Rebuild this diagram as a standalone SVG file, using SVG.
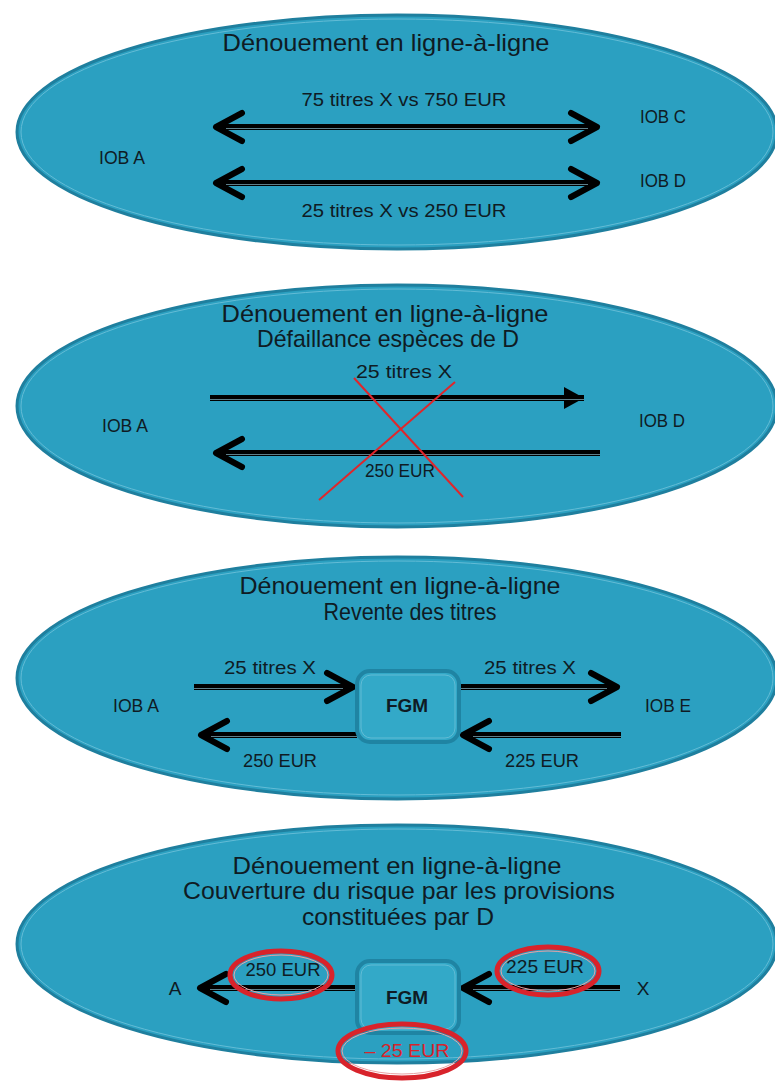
<svg xmlns="http://www.w3.org/2000/svg" width="775" height="1083" viewBox="0 0 775 1083">
<style>
.bg{fill:#2ba0c1;stroke:#1f7f9e;stroke-width:3}
.rim{fill:none;stroke:#63bcd6;stroke-width:1}
.t{font-family:"Liberation Sans Narrow","Liberation Sans",Arial,sans-serif;fill:#0f1b24;text-anchor:middle}
.h{font-size:24px}
.l{font-size:19px}
.b{font-weight:bold;font-size:19px}
.ln{fill:none;stroke:#000;stroke-width:6}
.hl{fill:none;stroke:#5e7f8a;stroke-width:1}
.box{fill:#33a9c8;stroke:#1f84a3;stroke-width:4}
.boxin{fill:none;stroke:#62bcd5;stroke-width:1}
.red{fill:none;stroke:#d8232b;stroke-width:5}
.redin{fill:none;stroke:#e9a3a6;stroke-width:1}
.cross{stroke:#e0262b;stroke-width:2}
</style>
<defs>
<marker id="chev" markerUnits="userSpaceOnUse" markerWidth="40" markerHeight="40" viewBox="0 0 40 40" refX="33" refY="20" orient="auto-start-reverse">
<path d="M7,6 L33,20 L7,34" fill="none" stroke="#000" stroke-width="6" stroke-linecap="round" stroke-linejoin="round"/>
</marker>
<marker id="tri" markerUnits="userSpaceOnUse" markerWidth="30" markerHeight="30" viewBox="0 0 30 30" refX="24" refY="15" orient="auto">
<path d="M4,4 L24,15 L4,26 Z" fill="#000"/>
</marker>
</defs>

<g id="panel1">
<ellipse class="bg" cx="397" cy="132" rx="380" ry="117"/>
<ellipse class="rim" cx="397" cy="132" rx="376" ry="113"/>
<text class="t h" x="386" y="51" textLength="327" lengthAdjust="spacingAndGlyphs">Dénouement en ligne-à-ligne</text>
<text class="t l" x="404" y="106" textLength="205" lengthAdjust="spacingAndGlyphs">75 titres X vs 750 EUR</text>
<text class="t l" x="404" y="217" textLength="205" lengthAdjust="spacingAndGlyphs">25 titres X vs 250 EUR</text>
<g id="iobA1"><text class="t l" x="122" y="164" textLength="46" lengthAdjust="spacingAndGlyphs">IOB A</text></g>
<g id="iobC1"><text class="t l" x="663" y="123" textLength="46" lengthAdjust="spacingAndGlyphs">IOB C</text></g>
<g id="iobD1"><text class="t l" x="663" y="187" textLength="46" lengthAdjust="spacingAndGlyphs">IOB D</text></g>
</g>

<g id="panel2">
<ellipse class="bg" cx="397" cy="406" rx="380" ry="121"/>
<ellipse class="rim" cx="397" cy="406" rx="376" ry="117"/>
<text class="t h" x="385" y="322" textLength="327" lengthAdjust="spacingAndGlyphs">Dénouement en ligne-à-ligne</text>
<text class="t h" x="388" y="347" textLength="262" lengthAdjust="spacingAndGlyphs">Défaillance espèces de D</text>
<text class="t l" x="404" y="378" textLength="96" lengthAdjust="spacingAndGlyphs">25 titres X</text>
<text class="t l" x="400" y="477" textLength="70" lengthAdjust="spacingAndGlyphs">250 EUR</text>
<g id="iobA2"><text class="t l" x="125" y="432" textLength="46" lengthAdjust="spacingAndGlyphs">IOB A</text></g>
<g id="iobD2"><text class="t l" x="662" y="427" textLength="46" lengthAdjust="spacingAndGlyphs">IOB D</text></g>
</g>

<g id="panel3">
<ellipse class="bg" cx="397" cy="678" rx="380" ry="121"/>
<ellipse class="rim" cx="397" cy="678" rx="376" ry="117"/>
<text class="t h" x="400" y="594" textLength="321" lengthAdjust="spacingAndGlyphs">Dénouement en ligne-à-ligne</text>
<text class="t h" x="410" y="620" textLength="173" lengthAdjust="spacingAndGlyphs">Revente des titres</text>
<text class="t l" x="270" y="674" textLength="92" lengthAdjust="spacingAndGlyphs">25 titres X</text>
<text class="t l" x="530" y="674" textLength="92" lengthAdjust="spacingAndGlyphs">25 titres X</text>
<text class="t l" x="280" y="767" textLength="74" lengthAdjust="spacingAndGlyphs">250 EUR</text>
<text class="t l" x="542" y="767" textLength="74" lengthAdjust="spacingAndGlyphs">225 EUR</text>
<g id="iobA3"><text class="t l" x="136" y="712" textLength="46" lengthAdjust="spacingAndGlyphs">IOB A</text></g>
<g id="iobE3"><text class="t l" x="668" y="712" textLength="46" lengthAdjust="spacingAndGlyphs">IOB E</text></g>
</g>

<g id="panel4">
<ellipse class="bg" cx="397" cy="944" rx="380" ry="119"/>
<ellipse class="rim" cx="397" cy="944" rx="376" ry="115"/>
<text class="t h" x="397" y="874" textLength="329" lengthAdjust="spacingAndGlyphs">Dénouement en ligne-à-ligne</text>
<text class="t h" x="399" y="899" textLength="432" lengthAdjust="spacingAndGlyphs">Couverture du risque par les provisions</text>
<text class="t h" x="398" y="925" textLength="192" lengthAdjust="spacingAndGlyphs">constituées par D</text>
<g id="nodeA4"><text class="t l" x="175" y="995">A</text></g>
<g id="nodeX4"><text class="t l" x="643" y="995">X</text></g>
</g>

<g id="connectors">
<path class="ln" d="M216,127 H597" marker-start="url(#chev)" marker-end="url(#chev)"/>
<path class="hl" d="M226,128.5 H588"/>
<path class="ln" d="M216,183 H597" marker-start="url(#chev)" marker-end="url(#chev)"/>
<path class="hl" d="M226,184.5 H588"/>

<path class="ln" d="M210,398 H584" marker-end="url(#tri)"/>
<path class="hl" d="M210,399.5 H584"/>
<path class="ln" d="M600,453 H216" marker-end="url(#chev)"/>
<path class="hl" d="M600,454.5 H226"/>

<path class="ln" d="M194,687 H353" marker-end="url(#chev)"/>
<path class="hl" d="M194,688.5 H343"/>
<path class="ln" d="M460,687 H617" marker-end="url(#chev)"/>
<path class="hl" d="M460,688.5 H607"/>
<path class="ln" d="M357,735 H201" marker-end="url(#chev)"/>
<path class="hl" d="M357,736.5 H211"/>
<path class="ln" d="M621,735 H463" marker-end="url(#chev)"/>
<path class="hl" d="M621,736.5 H473"/>

<path class="ln" d="M357,988 H200" marker-end="url(#chev)"/>
<path class="hl" d="M357,989.5 H210"/>
<path class="ln" d="M620,988 H463" marker-end="url(#chev)"/>
<path class="hl" d="M620,989.5 H473"/>
</g>

<g id="fgm3">
<rect class="box" x="357" y="671" width="102" height="71" rx="13"/>
<rect class="boxin" x="361" y="675" width="94" height="63" rx="10"/>
<text class="t b" x="407" y="712">FGM</text>
</g>

<g id="fgm4">
<rect class="box" x="357" y="961" width="102" height="72" rx="13"/>
<rect class="boxin" x="361" y="965" width="94" height="64" rx="10"/>
<text class="t b" x="407" y="1004">FGM</text>
</g>

<g id="cross">
<line class="cross" x1="354" y1="378" x2="463" y2="497"/>
<line class="cross" x1="455" y1="382" x2="319" y2="500"/>
</g>

<g id="highlights">
<ellipse class="red" cx="281" cy="975" rx="51" ry="24"/>
<ellipse class="redin" cx="281" cy="975" rx="47" ry="20"/>
<text class="t l" x="283" y="976" textLength="75" lengthAdjust="spacingAndGlyphs">250 EUR</text>
<ellipse class="red" cx="548" cy="971" rx="51" ry="24"/>
<ellipse class="redin" cx="548" cy="971" rx="47" ry="20"/>
<text class="t l" x="545" y="973" textLength="78" lengthAdjust="spacingAndGlyphs">225 EUR</text>
<ellipse class="red" cx="402" cy="1051" rx="64" ry="27"/>
<ellipse class="redin" cx="402" cy="1051" rx="60" ry="23"/>
<text class="t l" x="407" y="1057" textLength="85" lengthAdjust="spacingAndGlyphs" style="fill:#d8232b">– 25 EUR</text>
</g>
</svg>
